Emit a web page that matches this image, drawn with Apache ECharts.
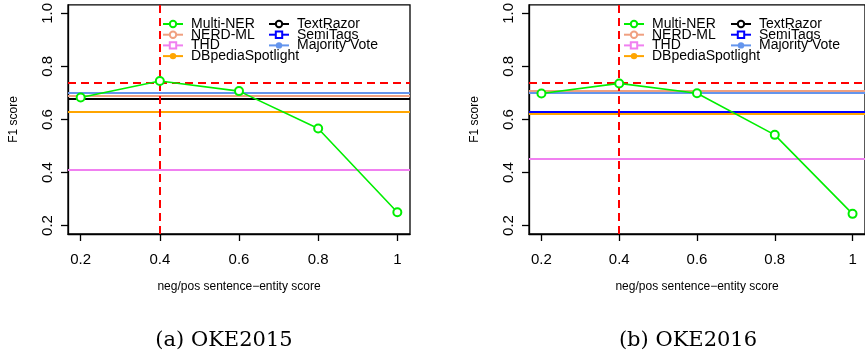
<!DOCTYPE html>
<html>
<head>
<meta charset="utf-8">
<script src="https://cdn.jsdelivr.net/npm/echarts@6/dist/echarts.min.js"></script>
<style>
html,body{margin:0;padding:0;background:#fff;}
#chart{width:865px;height:358px;}
</style>
</head>
<body>
<div id="chart"></div>
<script>
// ---- data ----
const thresholds = [0.2, 0.4, 0.6, 0.8, 1.0];
const xTickValues = [0.2, 0.4, 0.6, 0.8, 1.0];
const xTickLabels = ['0.2', '0.4', '0.6', '0.8', '1'];
const yTickValues = [0.2, 0.4, 0.6, 0.8, 1.0];
const yTickLabels = ['0.2', '0.4', '0.6', '0.8', '1.0'];

const multiNer2015 = [0.683, 0.745, 0.707, 0.566, 0.250];
const multiNer2016 = [0.698, 0.736, 0.699, 0.542, 0.244];

const baselineNames = ['TextRazor', 'SemiTags', 'NERD-ML', 'THD', 'DBpediaSpotlight', 'Majority Vote'];
const baseline2015 = [0.679, 0.689, 0.695, 0.409, 0.629, 0.705];
const baseline2016 = [0.633, 0.627, 0.710, 0.453, 0.621, 0.700];

const bestF1_2015 = 0.745;
const bestF1_2016 = 0.737;
const bestThreshold2015 = 0.4;
const bestThreshold2016 = 0.4;

const captions = ['(a) OKE2015', '(b) OKE2016'];
const legendCol1 = ['Multi-NER', 'NERD-ML', 'THD', 'DBpediaSpotlight'];
const legendCol2 = ['TextRazor', 'SemiTags', 'Majority Vote'];

// ---- styles ----
const colors = {
  'Multi-NER': '#00ee00',
  'NERD-ML': '#f0a080',
  'THD': '#f080f0',
  'DBpediaSpotlight': '#ffa500',
  'TextRazor': '#000000',
  'SemiTags': '#0000ff',
  'Majority Vote': '#6495ed'
};
const symbols = {
  'NERD-ML': 'emptyCircle',
  'THD': 'emptyRect',
  'DBpediaSpotlight': 'circle',
  'TextRazor': 'emptyCircle',
  'SemiTags': 'emptyRect',
  'Majority Vote': 'circle'
};
const sans = 'Liberation Sans, Arial, sans-serif';
const axisMin = 0.168, axisMax = 1.032;

const grids = [
  {left: 68, top: 3, width: 342, height: 231, show: true, borderColor: '#000', borderWidth: 1.3, backgroundColor: 'transparent'},
  {left: 529, top: 3, width: 342, height: 231, show: true, borderColor: '#000', borderWidth: 1.3, backgroundColor: 'transparent'}
];

function xAxisFor(i) {
  return {
    type: 'value', gridIndex: i, min: axisMin, max: axisMax,
    name: 'neg/pos sentence\u2212entity score', nameLocation: 'middle', nameGap: 47,
    nameTextStyle: {fontFamily: sans, fontSize: 12, color: '#000'},
    axisLine: {show: true, lineStyle: {color: '#000', width: 1.3}},
    axisTick: {show: true, length: 7, customValues: xTickValues, lineStyle: {color: '#000', width: 1.3}},
    axisLabel: {
      show: true, customValues: xTickValues, margin: 18,
      fontFamily: sans, fontSize: 15, color: '#000',
      formatter: v => { const k = xTickValues.findIndex(t => Math.abs(t - v) < 1e-9); return k >= 0 ? xTickLabels[k] : ''; }
    },
    splitLine: {show: false}
  };
}
function yAxisFor(i) {
  return {
    type: 'value', gridIndex: i, min: axisMin, max: axisMax,
    name: 'F1 score', nameLocation: 'middle', nameGap: 48,
    nameTextStyle: {fontFamily: sans, fontSize: 12, color: '#000'},
    axisLine: {show: true, lineStyle: {color: '#000', width: 1.3}},
    axisTick: {show: true, length: 7, customValues: yTickValues, lineStyle: {color: '#000', width: 1.3}},
    axisLabel: {
      show: true, customValues: yTickValues, margin: 13, rotate: 90,
      fontFamily: sans, fontSize: 15, color: '#000',
      formatter: v => { const k = yTickValues.findIndex(t => Math.abs(t - v) < 1e-9); return k >= 0 ? yTickLabels[k] : ''; }
    },
    splitLine: {show: false}
  };
}

function panelSeries(i, multi, baseline, best, bestX) {
  const out = [];
  baselineNames.forEach((name, k) => {
    out.push({
      type: 'line', name: name, xAxisIndex: i, yAxisIndex: i,
      data: [], symbol: symbols[name], symbolSize: 7, showSymbol: false,
      color: colors[name],
      lineStyle: {color: colors[name], width: 2},
      itemStyle: {color: colors[name], borderWidth: 1.5},
      z: 2,
      markLine: {
        silent: true, symbol: ['none', 'none'], animation: false,
        label: {show: false},
        lineStyle: {color: colors[name], width: name === 'TextRazor' ? 2.2 : 2, type: 'solid'},
        emphasis: {disabled: true},
        data: [{yAxis: baseline[k]}]
      }
    });
  });
  out.push({
    type: 'line', name: 'Multi-NER', xAxisIndex: i, yAxisIndex: i,
    data: thresholds.map((t, k) => [t, multi[k]]),
    symbol: 'emptyCircle', symbolSize: 8, showSymbol: true,
    color: colors['Multi-NER'],
    lineStyle: {color: colors['Multi-NER'], width: 1.6},
    itemStyle: {color: colors['Multi-NER'], borderWidth: 1.6},
    z: 5,
    markLine: {
      silent: true, symbol: ['none', 'none'], animation: false,
      label: {show: false},
      lineStyle: {color: '#ff0000', width: 2, type: [8, 5]},
      emphasis: {disabled: true},
      data: [{yAxis: best}, {xAxis: bestX}]
    }
  });
  return out;
}

function legendFor(names, left) {
  return {
    orient: 'vertical', left: left, top: 17, padding: 0, itemGap: -3.3,
    itemWidth: 20, itemHeight: 8, selectedMode: false,
    data: names,
    textStyle: {fontFamily: sans, fontSize: 14, color: '#000', padding: [0, 0, 0, 3]}
  };
}

const chart = echarts.init(document.getElementById('chart'), null, {renderer: 'canvas'});
chart.setOption({
  animation: false,
  backgroundColor: '#fff',
  grid: grids,
  xAxis: [xAxisFor(0), xAxisFor(1)],
  yAxis: [yAxisFor(0), yAxisFor(1)],
  legend: [
    legendFor(legendCol1, 162), legendFor(legendCol2, 268),
    legendFor(legendCol1, 623), legendFor(legendCol2, 730)
  ],
  title: [
    {text: captions[0], left: 224, top: 330, textAlign: 'center', padding: 0,
     textStyle: {fontFamily: 'DejaVu Serif, serif', fontWeight: 'normal', fontSize: 21, color: '#000'}},
    {text: captions[1], left: 688, top: 330, textAlign: 'center', padding: 0,
     textStyle: {fontFamily: 'DejaVu Serif, serif', fontWeight: 'normal', fontSize: 21, color: '#000'}}
  ],
  series: [].concat(
    panelSeries(0, multiNer2015, baseline2015, bestF1_2015, bestThreshold2015),
    panelSeries(1, multiNer2016, baseline2016, bestF1_2016, bestThreshold2016)
  )
});
</script>
</body>
</html>
